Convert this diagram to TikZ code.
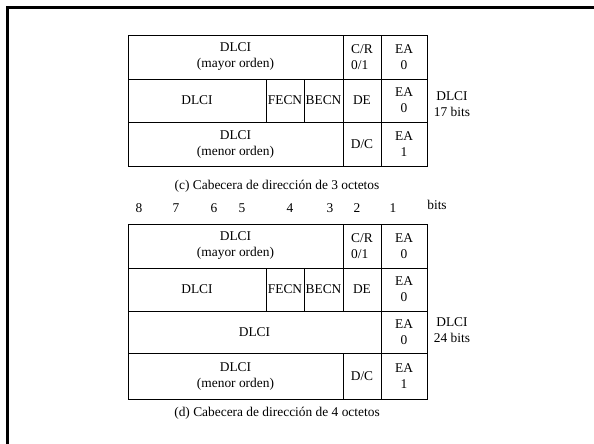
\documentclass[tikz,border=0pt]{standalone}
\usepackage{fontspec}
\setmainfont{Liberation Serif}
\begin{document}
\begin{tikzpicture}[
  x=1pt, y=-1pt,
  cell/.style={draw, line width=0.8pt, anchor=north west, inner sep=0pt, outer sep=0pt,
    align=center, font=\fontsize{13.4}{16}\selectfont},
  note/.style={align=center, inner sep=0pt, font=\fontsize{13.4}{16}\selectfont}
]
\useasboundingbox (0,0) rectangle (594,444);
% marco
\draw[line width=2.5pt] (7.5,444) -- (7.5,7.5) -- (594,7.5);

% cabecera de 3 octetos
\node[cell, minimum width=215pt, minimum height=44pt] (dlciA1) at (128,35) {DLCI\\(mayor orden)};
\node[cell, align=left, minimum width=38pt, minimum height=44pt] (crA) at (343,35) {C/R\\0/1};
\node[cell, minimum width=46pt, minimum height=44pt] (eaA1) at (381,35) {EA\\0};
\node[cell, minimum width=138pt, minimum height=43pt] (dlciA2) at (128,79) {DLCI};
\node[cell, minimum width=38pt, minimum height=43pt] (fecnA) at (266,79) {FECN};
\node[cell, minimum width=39pt, minimum height=43pt] (becnA) at (304,79) {BECN};
\node[cell, minimum width=38pt, minimum height=43pt] (deA) at (343,79) {DE};
\node[cell, minimum width=46pt, minimum height=43pt] (eaA2) at (381,79) {EA\\0};
\node[cell, minimum width=215pt, minimum height=44pt] (dlciA3) at (128,122) {DLCI\\(menor orden)};
\node[cell, minimum width=38pt, minimum height=44pt] (dcA) at (343,122) {D/C};
\node[cell, minimum width=46pt, minimum height=44pt] (eaA3) at (381,122) {EA\\1};
\node[note] (lenA) at (452,104) {DLCI\\17 bits};
\node[note] (capA) at (277,186) {(c) Cabecera de dirección de 3 octetos};

% numeros de bit
\node[note] (b8) at (139,208) {8};
\node[note] (b7) at (176,208) {7};
\node[note] (b6) at (214,208) {6};
\node[note] (b5) at (242,208) {5};
\node[note] (b4) at (290,208) {4};
\node[note] (b3) at (330,208) {3};
\node[note] (b2) at (357,208) {2};
\node[note] (b1) at (393,208) {1};
\node[note] (bits) at (437,205) {bits};

% cabecera de 4 octetos
\node[cell, minimum width=215pt, minimum height=44pt] (dlciB1) at (128,224) {DLCI\\(mayor orden)};
\node[cell, align=left, minimum width=38pt, minimum height=44pt] (crB) at (343,224) {C/R\\0/1};
\node[cell, minimum width=46pt, minimum height=44pt] (eaB1) at (381,224) {EA\\0};
\node[cell, minimum width=138pt, minimum height=43pt] (dlciB2) at (128,268) {DLCI};
\node[cell, minimum width=38pt, minimum height=43pt] (fecnB) at (266,268) {FECN};
\node[cell, minimum width=39pt, minimum height=43pt] (becnB) at (304,268) {BECN};
\node[cell, minimum width=38pt, minimum height=43pt] (deB) at (343,268) {DE};
\node[cell, minimum width=46pt, minimum height=43pt] (eaB2) at (381,268) {EA\\0};
\node[cell, minimum width=253pt, minimum height=42pt] (dlciB3) at (128,311) {DLCI};
\node[cell, minimum width=46pt, minimum height=42pt] (eaB3) at (381,311) {EA\\0};
\node[cell, minimum width=215pt, minimum height=46pt] (dlciB4) at (128,353) {DLCI\\(menor orden)};
\node[cell, minimum width=38pt, minimum height=46pt] (dcB) at (343,353) {D/C};
\node[cell, minimum width=46pt, minimum height=46pt] (eaB4) at (381,353) {EA\\1};
\node[note] (lenB) at (452,330) {DLCI\\24 bits};
\node[note] (capB) at (277,413) {(d) Cabecera de dirección de 4 octetos};
\end{tikzpicture}
\end{document}
